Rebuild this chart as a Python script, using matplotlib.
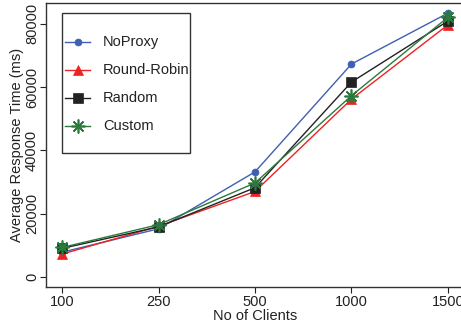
import matplotlib
matplotlib.use("Agg")
import matplotlib.pyplot as plt
from matplotlib.lines import Line2D
from matplotlib.patches import Rectangle

plt.rcParams["font.family"] = ["Liberation Sans", "DejaVu Sans"]

clients = ["100", "250", "500", "1000", "1500"]
noproxy = [7800, 15200, 33200, 67300, 83400]
round_robin = [7200, 16000, 27000, 56200, 79700]
random_lb = [9000, 15800, 28200, 61600, 80900]
custom = [9300, 16500, 29700, 57300, 82100]

series = [
    ("NoProxy", noproxy, "#3f5fb3", "o", 5),
    ("Round-Robin", round_robin, "#ee2222", "^", 7.5),
    ("Random", random_lb, "#222222", "s", 7),
    ("Custom", custom, "#2a7a3e", (8, 2, 0), 10),
]

W, H = 461, 329
fig = plt.figure(figsize=(W / 100, H / 100), dpi=100)
ax_l, ax_b, ax_w, ax_h = 46, 287, 463.4 - 46, 284
ax = fig.add_axes([ax_l / W, (H - ax_b) / H, ax_w / W, ax_h / H])

xs = list(range(1, len(clients) + 1))
for name, vals, color, marker, ms in series:
    ax.plot(xs, vals, color=color, lw=1.0, marker=marker, ms=ms,
            markeredgewidth=1.2 if marker == (8, 2, 0) else 0.5,
            markeredgecolor=color, label=name)

ax.set_xlim(0.834, 5.16)
ax.set_ylim(-3200, 86600)
ax.set_xticks(xs)
ax.set_xticklabels(clients)
ax.set_yticks([0, 20000, 40000, 60000, 80000])
ax.set_yticklabels(["0", "20000", "40000", "60000", "80000"], rotation=90, va="center")
ax.tick_params(direction="out", length=4.5, width=0.8, labelsize=10.5, colors="#222222")
ax.tick_params(axis="y", pad=0.5)
ax.tick_params(axis="x", pad=1.5)
for s in ax.spines.values():
    s.set_linewidth(1.0)
    s.set_color("#333333")

ax.set_xlabel("No of Clients", fontsize=10.5, labelpad=0, color="#222222")
ax.set_ylabel("Average Response Time (ms)", fontsize=10.5, labelpad=1, color="#222222")


# legend drawn by hand, R style (pixel positions converted to axes fraction)
def fx(px):
    return (px - ax_l) / ax_w


def fy(py):
    return (ax_b - py) / ax_h


ax.add_patch(Rectangle((fx(62), fy(153)), fx(190) - fx(62), fy(13) - fy(153),
                       transform=ax.transAxes, fill=False, edgecolor="#333333",
                       lw=1.0, zorder=5))
for i, (name, _, color, marker, ms) in enumerate(series):
    yy = fy(42 + 28 * i)
    ax.add_line(Line2D([fx(65), fx(90)], [yy, yy], transform=ax.transAxes,
                       color=color, lw=1.0, zorder=6))
    ax.add_line(Line2D([fx(77.5)], [yy], transform=ax.transAxes, color=color,
                       marker=marker, ms=ms, markeredgecolor=color,
                       markeredgewidth=1.2 if marker == (8, 2, 0) else 0.5, zorder=6))
    ax.text(fx(103), yy, name, transform=ax.transAxes, fontsize=10.5,
            va="center", ha="left", color="#222222", zorder=6)

fig.savefig("out.png", dpi=100)
